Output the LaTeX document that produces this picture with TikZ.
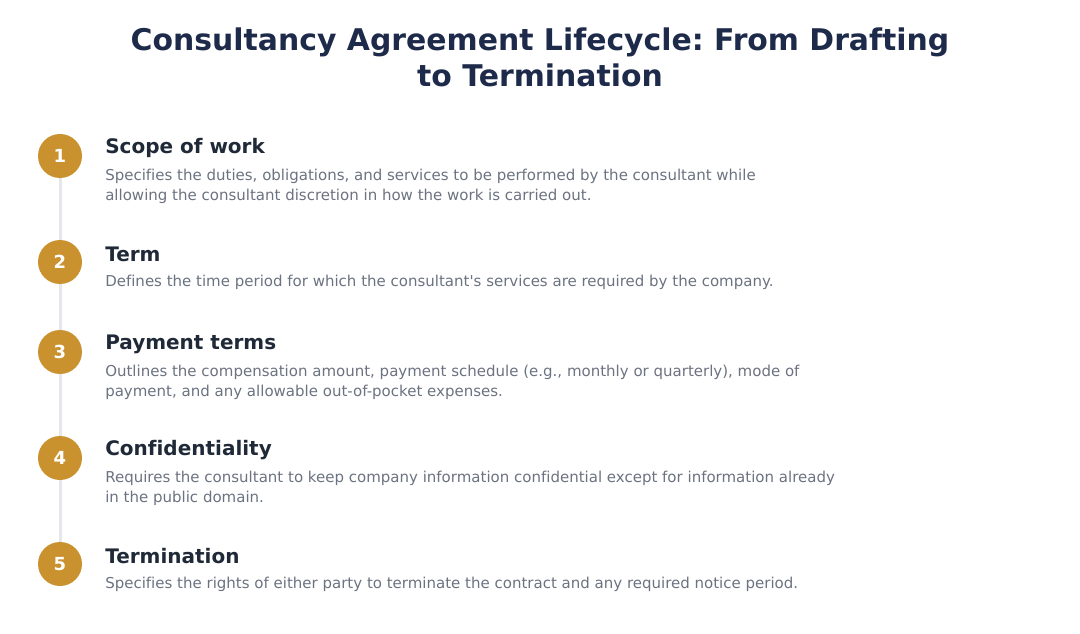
\documentclass[tikz,border=0pt]{standalone}
\usepackage{fontspec}
\setmainfont[Ligatures={NoCommon}]{DejaVu Sans}
\usepackage{xcolor}
\usepackage{tikz}
\usetikzlibrary{positioning}
\frenchspacing

\definecolor{titlecol}{RGB}{30,42,74}
\definecolor{headcol}{RGB}{31,41,55}
\definecolor{desccol}{RGB}{107,114,128}
\definecolor{goldcol}{RGB}{201,146,46}
\definecolor{railcol}{RGB}{229,231,235}

\tikzset{
  stepdot/.style={circle,fill=goldcol,minimum size=33pt,inner sep=0pt,text=white,font=\bfseries\fontsize{13.5}{16}\selectfont},
  stephead/.style={anchor=west,inner sep=0pt,text=headcol,font=\bfseries\fontsize{15}{18}\selectfont},
  stepdesc/.style={anchor=north west,inner sep=0pt,align=left,text=desccol,font=\fontsize{11.25}{15}\selectfont},
  rail/.style={draw=railcol,line width=2.25pt}
}

\begin{document}
\begin{tikzpicture}[x=0.75pt,y=0.75pt,yscale=-1,xscale=1]
      \path [use as bounding box] (0,0) rectangle (1080,634);

      % Title
      \node (title) [align=center,text=titlecol,font=\bfseries\fontsize{22.4}{27}\selectfont] at (540,57) {Consultancy Agreement Lifecycle: From Drafting\\to Termination};

      % Step circles
      \node (n1) [stepdot] at (60,156) {1};
      \node (n2) [stepdot] at (60,262) {2};
      \node (n3) [stepdot] at (60,352) {3};
      \node (n4) [stepdot] at (60,458) {4};
      \node (n5) [stepdot] at (60,564) {5};

      % Rail between circles
      \draw [rail] (n1.south) -- (n2.north);
      \draw [rail] (n2.south) -- (n3.north);
      \draw [rail] (n3.south) -- (n4.north);
      \draw [rail] (n4.south) -- (n5.north);

      % Headings
      \node (h1) [stephead] at (105,148) {Scope of work};
      \node (h2) [stephead] at (105,254) {Term};
      \node (h3) [stephead] at (105,344) {Payment terms};
      \node (h4) [stephead] at (105,450) {Confidentiality};
      \node (h5) [stephead] at (105,556) {Termination};

      % Descriptions
      \node (d1) [stepdesc] at (105,169) {Specifies the duties, obligations, and services to be performed by the consultant while\\allowing the consultant discretion in how the work is carried out.};
      \node (d2) [stepdesc] at (105,275) {Defines the time period for which the consultant\textquotesingle s services are required by the company.};
      \node (d3) [stepdesc] at (105,365) {Outlines the compensation amount, payment schedule (e.g., monthly or quarterly), mode of\\payment, and any allowable out-of-pocket expenses.};
      \node (d4) [stepdesc] at (105,471) {Requires the consultant to keep company information confidential except for information already\\in the public domain.};
      \node (d5) [stepdesc] at (105,577) {Specifies the rights of either party to terminate the contract and any required notice period.};
\end{tikzpicture}
\end{document}
